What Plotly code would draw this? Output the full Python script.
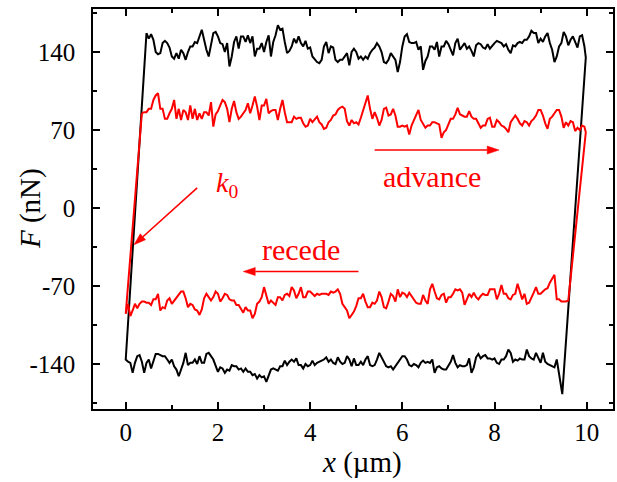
import numpy as np
import plotly.graph_objects as go

# Lateral force loops recorded while the tip slides forward (advance)
# and back (recede) over a 10 µm track; scans sampled every 0.05 µm.

# ---- black run ----
black_adv_start, black_adv_end = 0.45, 9.95
black_adv = [
    157, 152, 156, 151, 140, 138, 139, 148, 150, 148,
    144, 136, 134, 139, 134, 142, 139, 133, 140, 145,
    145, 149, 148, 155, 160, 151, 142, 136, 148, 157,
    158, 154, 148, 147, 140, 148, 127, 136, 149, 154,
    143, 154, 154, 149, 155, 148, 154, 136, 143, 143,
    148, 140, 149, 155, 136, 149, 155, 164, 160, 161,
    149, 139, 141, 145, 152, 148, 154, 148, 145, 150,
    143, 144, 136, 133, 131, 130, 133, 145, 149, 139,
    145, 144, 133, 131, 133, 133, 136, 139,
    128, 140, 143, 140, 134, 136, 133, 136, 134, 139,
    142, 144, 148, 145, 140, 131, 130, 133, 139, 136,
    133, 122, 131, 145, 154, 156, 149, 148, 148, 149,
    142, 145, 124, 132, 136, 145, 145, 142, 149, 136,
    145, 145, 150, 147, 142, 137, 148, 152, 142, 145,
    148, 143, 145, 141, 136, 146, 148, 147, 144, 143,
    147, 143, 146, 148, 150, 149, 148, 145, 147, 142,
    139, 146, 145, 148, 149, 148, 151, 151, 154, 159,
    157, 157, 148, 152, 149, 154, 157, 148, 142, 131,
    136, 145, 148, 158, 154, 146, 151, 154, 148, 144,
    154, 155, 145,
]
black_rec_start, black_rec_end = 0.00, 9.35
black_rec = [
    -136, -138, -139, -148, -139, -133, -132, -138, -148, -139,
    -136, -144, -138, -131, -131, -132, -133, -133, -136, -139,
    -136, -142, -145, -151, -146, -139, -130, -141, -139, -139,
    -136, -140, -133, -139, -139, -131, -130, -133, -136, -142,
    -147, -143, -144, -148, -145, -146, -141, -142, -142, -145,
    -144, -147, -144, -147, -147, -150, -149, -153, -150, -152,
    -151, -156, -150, -145, -144, -145, -146, -142, -142, -137,
    -141, -138, -136, -138, -135, -141, -141, -144, -140, -142,
    -141, -137, -141, -139, -138, -137, -136, -134, -138, -136,
    -139, -140, -134, -138, -140, -139, -133,
    -136, -142, -135, -141, -141, -138, -141, -136, -133, -141,
    -142, -141, -136, -130, -135, -138, -142, -143, -142, -145,
    -143, -139, -136, -133, -133, -136, -141, -142, -140, -141,
    -143, -139, -137, -139, -138, -139, -136, -148, -143, -142,
    -144, -145, -145, -142, -138, -132, -139, -143, -141, -142,
    -142, -141, -135, -148, -143, -134, -131, -135, -133, -132,
    -135, -135, -136, -135, -139, -140, -136, -136, -133, -127,
    -130, -138, -136, -137, -135, -136, -136, -127, -133, -135,
    -136, -130, -135, -139, -130, -138, -140, -141, -142, -143,
    -136,
]
# reversal at the right end (stick part of the loop)
black_turn_x = [9.98, 9.47]
black_turn_F = [135, -167]

# ---- red run ----
red_adv_start, red_adv_end = 0.35, 9.95
red_adv = [
    85, 86, 86, 89, 89, 97, 101, 103, 89, 89,
    80, 80, 85, 89, 97, 80, 89, 79, 88, 86,
    79, 92, 80, 89, 79, 85, 80, 86, 86, 83,
    95, 73, 84, 87, 92, 97, 95, 89, 77, 89,
    96, 86, 80, 82, 85, 88, 94, 85, 92, 100,
    91, 79, 92, 92, 98, 85, 87, 88, 88, 79,
    89, 97, 86, 77, 77, 77, 82, 80, 81, 81,
    76, 73, 74, 80, 77, 80, 82, 77, 75, 71,
    72, 77, 79, 83, 84, 88, 90, 91, 89, 78,
    74, 79, 76, 77, 75,
    81, 88, 95, 101, 89, 80, 86, 81, 74, 79,
    89, 90, 83, 84, 89, 83, 73, 73, 74, 73,
    74, 66, 74, 79, 83, 88, 79, 75, 72, 74,
    74, 77, 77, 76, 75, 63, 68, 70, 75, 80,
    80, 84, 90, 84, 83, 82, 82, 87, 82, 80,
    80, 76, 72, 74, 74, 80, 81, 73, 73, 79,
    77, 74, 73, 71, 68, 77, 80, 83, 80, 76,
    74, 78, 77, 74, 78, 80, 83, 88, 88, 83,
    76, 71, 80, 82, 85, 88, 88, 82, 72, 77,
    74, 78, 77, 69, 72, 70, 74, 73,
]
red_rec_start, red_rec_end = 0.00, 9.60
red_rec = [
    -95, -86, -97, -92, -86, -90, -86, -84, -84, -85,
    -85, -87, -82, -82, -77, -92, -89, -90, -83, -81,
    -86, -83, -81, -78, -75, -75, -81, -89, -86, -87,
    -91, -92, -96, -91, -81, -77, -80, -83, -80, -75,
    -77, -84, -81, -77, -78, -82, -83, -83, -87, -87,
    -91, -94, -89, -92, -92, -99, -95, -86, -84, -80,
    -71, -77, -86, -83, -85, -87, -80, -80, -83, -78,
    -77, -79, -71, -74, -81, -77, -71, -80, -80, -75,
    -75, -77, -79, -77, -78, -77, -77, -77, -78, -75,
    -76, -75, -73, -77, -86, -89, -92,
    -99, -96, -93, -88, -81, -81, -77, -84, -89, -89,
    -85, -86, -83, -75, -80, -89, -90, -84, -77, -79,
    -84, -73, -80, -76, -77, -80, -76, -79, -82, -85,
    -86, -86, -78, -83, -86, -73, -68, -75, -81, -82,
    -78, -77, -85, -80, -80, -77, -73, -74, -73, -76,
    -87, -82, -77, -80, -76, -80, -82, -79, -77, -78,
    -78, -73, -73, -73, -82, -77, -69, -77, -77, -81,
    -82, -78, -77, -68, -76, -82, -77, -86, -85, -80,
    -76, -71, -77, -77, -75, -73, -72, -67, -63, -60,
    -82, -82, -84, -84, -84, -83,
]
# reversal at the right end of the red loop
red_turn_x = [9.98]
red_turn_F = [68]

x_ticks = [0, 2, 4, 6, 8, 10]
x_tick_text = ["0", "2", "4", "6", "8", "10"]
y_ticks = [-140, -70, 0, 70, 140]
y_tick_text = ["-140", "-70", "0", "70", "140"]

X_RANGE = [-0.71, 10.57]
Y_RANGE = [-180.4, 178.6]
PLOT_W, PLOT_H = 522, 400          # plotting area in px (617x482 page)

SERIF = "Liberation Serif"
RED = "#ff0000"


def loop(adv_start, adv_end, adv, rec_start, rec_end, rec, turn_x, turn_F):
    """Closed friction loop: advance branch, right turn, recede branch, left turn."""
    ax = np.linspace(adv_start, adv_end, len(adv))
    rx = np.linspace(rec_start, rec_end, len(rec))
    xs = list(ax) + list(turn_x) + list(rx[::-1]) + [ax[0]]
    ys = list(adv) + list(turn_F) + list(rec[::-1]) + [adv[0]]
    return xs, ys


def arrow_shapes(tail, head, color, head_len=12.0, head_half=4.0, width=1.6):
    """Straight arrow in data coordinates with a filled triangular head."""
    sx = PLOT_W / (X_RANGE[1] - X_RANGE[0])
    sy = PLOT_H / (Y_RANGE[1] - Y_RANGE[0])
    dx = (head[0] - tail[0]) * sx
    dy = (head[1] - tail[1]) * sy
    n = np.hypot(dx, dy)
    ux, uy = dx / n, dy / n
    px, py = -uy, ux
    bx_ = head[0] - head_len * ux / sx
    by_ = head[1] - head_len * uy / sy
    p1 = (bx_ + head_half * px / sx, by_ + head_half * py / sy)
    p2 = (bx_ - head_half * px / sx, by_ - head_half * py / sy)
    shaft = dict(type="line", xref="x", yref="y",
                 x0=tail[0], y0=tail[1], x1=bx_, y1=by_,
                 line=dict(color=color, width=width))
    tip = dict(type="path", xref="x", yref="y",
               path=f"M {head[0]},{head[1]} L {p1[0]},{p1[1]} L {p2[0]},{p2[1]} Z",
               fillcolor=color, line=dict(color=color, width=0.5))
    return [shaft, tip]


bx, by = loop(black_adv_start, black_adv_end, black_adv,
              black_rec_start, black_rec_end, black_rec,
              black_turn_x, black_turn_F)
rx, ry = loop(red_adv_start, red_adv_end, red_adv,
              red_rec_start, red_rec_end, red_rec,
              red_turn_x, red_turn_F)

fig = go.Figure()
fig.add_trace(go.Scatter(x=bx, y=by, mode="lines",
                         line=dict(color="black", width=2), showlegend=False))
fig.add_trace(go.Scatter(x=rx, y=ry, mode="lines",
                         line=dict(color=RED, width=2), showlegend=False))

axis_common = dict(
    showline=True, linecolor="black", linewidth=1.5, mirror="allticks",
    ticks="inside", ticklen=7, tickwidth=1.5, tickcolor="black",
    showgrid=False, zeroline=False, tickmode="array",
    tickfont=dict(family=SERIF, size=25, color="black"),
)
fig.update_xaxes(range=X_RANGE, tickvals=x_ticks, ticktext=x_tick_text,
                 minor=dict(ticks="inside", ticklen=4, tickwidth=1.5,
                            tickcolor="black", dtick=1, tick0=0, showgrid=False),
                 ticklabelstandoff=0, **axis_common)
fig.update_yaxes(range=Y_RANGE, tickvals=y_ticks, ticktext=y_tick_text,
                 minor=dict(ticks="inside", ticklen=4, tickwidth=1.5,
                            tickcolor="black", dtick=35, tick0=0, showgrid=False),
                 ticklabelstandoff=11, **axis_common)

annotations = [
    # axis titles
    dict(text="<i>x</i> (µm)", xref="paper", yref="paper", x=0.518, y=-0.133,
         xanchor="center", yanchor="middle", showarrow=False,
         font=dict(family=SERIF, size=29, color="black")),
    dict(text="<i>F</i> (nN)", xref="paper", yref="paper", x=-0.121, y=0.5,
         xanchor="center", yanchor="middle", showarrow=False, textangle=-90,
         font=dict(family=SERIF, size=29, color="black")),
    # direction labels
    dict(text="advance", x=6.65, y=28.5, xref="x", yref="y", showarrow=False,
         font=dict(family=SERIF, size=30, color=RED)),
    dict(text="recede", x=3.81, y=-37.5, xref="x", yref="y", showarrow=False,
         font=dict(family=SERIF, size=30, color=RED)),
    dict(text="<i>k</i><sub>0</sub>", x=2.2, y=21, xref="x", yref="y",
         showarrow=False, font=dict(family=SERIF, size=28, color=RED)),
]

# direction arrows: (tail, head)
arrows = [((5.40, 52), (8.10, 52)),
          ((5.05, -57), (2.55, -57)),
          ((1.55, 18), (0.18, -33))]
shapes = []
for tail, head in arrows:
    shapes += arrow_shapes(tail, head, RED)

fig.update_layout(
    width=617, height=482,
    margin=dict(l=93, r=2, t=9, b=73),
    paper_bgcolor="white", plot_bgcolor="white",
    annotations=annotations, shapes=shapes,
)

fig.write_html("out.html")
